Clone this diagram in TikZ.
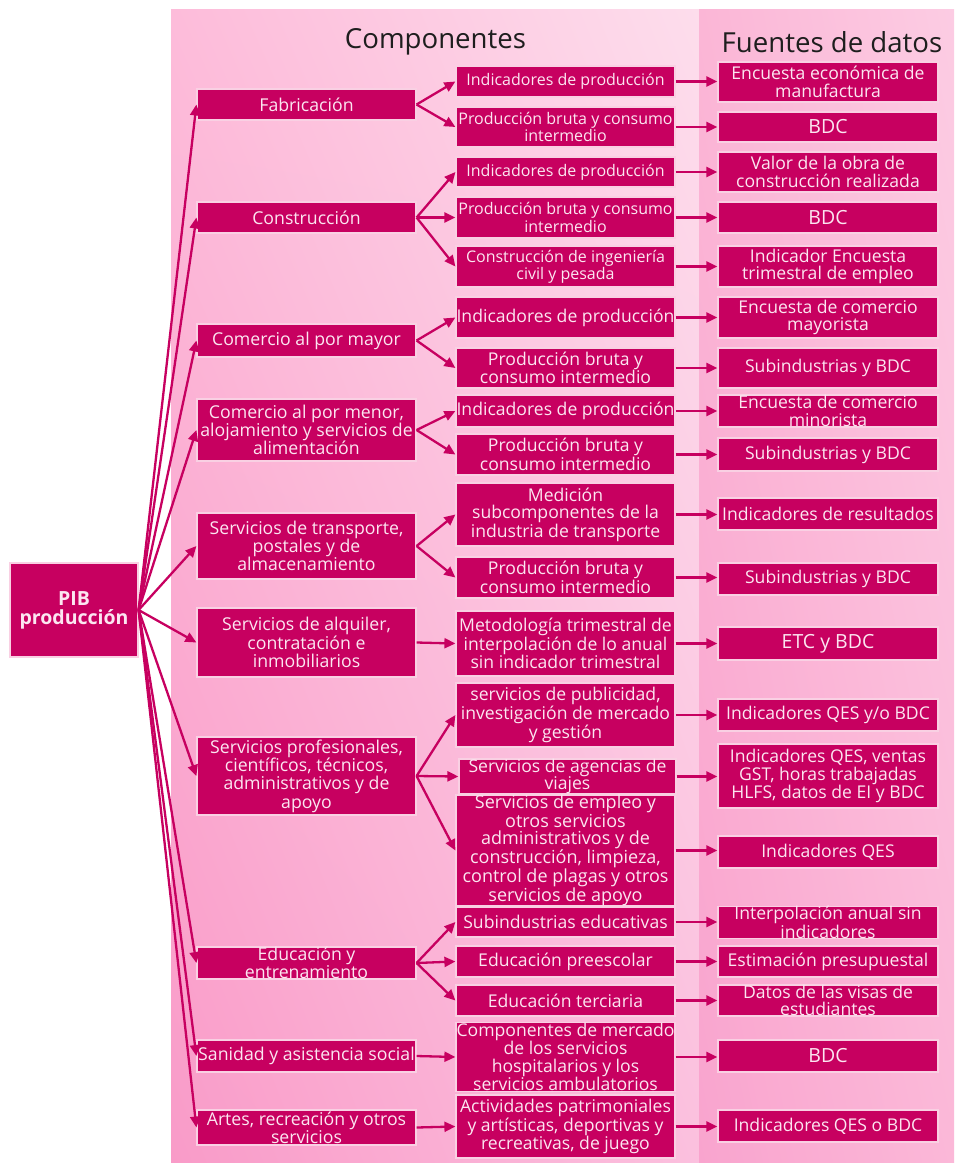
\documentclass[tikz,border=0pt]{standalone}
\usepackage{fontspec}
\setmainfont{Open Sans}
\usetikzlibrary{arrows.meta,shadings}
\definecolor{mag}{HTML}{C70060}
\definecolor{boxtext}{HTML}{FCE6F1}
\definecolor{boxedge}{HTML}{F9D0E3}
\definecolor{hdr}{HTML}{1E1E1E}
\newcommand\BX[7][]{\node[bx,#1,minimum width={(#4)-(#3)},minimum height={(#6)-(#5)}] (#2) at ({((#3)+(#4))/2},{((#5)+(#6))/2}) {#7};}
\newcommand\Cone[5][]{\BX[fone,#1]{#2}{197}{416}{#3}{#4}{#5}}
\newcommand\Ctwo[5][]{\BX[fbig,#1]{#2}{456}{675}{#3}{#4}{#5}}
\newcommand\Cthree[5][]{\BX[fbig,#1]{#2}{718}{938}{#3}{#4}{#5}}
\begin{document}
\begin{tikzpicture}[x=1pt,y=-1pt,
  bx/.style={draw=boxedge,line width=1.2pt,fill=mag,text=boxtext,align=center,inner sep=0pt},
  fone/.style={font=\fontsize{17.7}{18.3}\selectfont},
  fsmall/.style={font=\fontsize{16}{17.2}\selectfont},
  fbig/.style={font=\fontsize{17.6}{17.5}\selectfont},
  fhuge/.style={font=\fontsize{19.5}{20}\selectfont},
  conn/.style={draw=mag,line width=2.3pt,-{Triangle[length=11pt,width=10pt]}},
  hdrtext/.style={text=hdr,font=\fontsize{27.6}{30}\selectfont,inner sep=0pt}]
\useasboundingbox (0,0) rectangle (954,1163);
% background panels
\shade[upper left={rgb,255:red,253;green,188;blue,218},upper right={rgb,255:red,253;green,221;blue,236},
       lower left={rgb,255:red,249;green,155;blue,200},lower right={rgb,255:red,251;green,192;blue,222}]
  (171,9) rectangle (699,1163);
\shade[upper left={rgb,255:red,251;green,182;blue,214},upper right={rgb,255:red,252;green,204;blue,227},
       lower left={rgb,255:red,249;green,164;blue,206},lower right={rgb,255:red,251;green,184;blue,216}]
  (699,9) rectangle (954,1163);
% headers
\node[hdrtext] (h1) at (435.5,42) {Componentes};
\node[hdrtext] (h2) at (832,42) {Fuentes de datos};
% root
\BX[font=\fontsize{19.5}{19}\selectfont\bfseries]{pib}{10}{138}{563}{657}{PIB\\producción}
% column 1
\Cone{a1}{89}{120}{Fabricación}
\Cone{a2}{202}{233}{Construcción}
\Cone{a3}{324}{357}{Comercio al por mayor}
\Cone{a4}{399}{461}{Comercio al por menor,\\alojamiento y servicios de\\alimentación}
\Cone{a5}{513}{579}{Servicios de transporte,\\postales y de\\almacenamiento}
\Cone{a6}{608}{677}{Servicios de alquiler,\\contratación e\\inmobiliarios}
\Cone{a7}{737}{815}{Servicios profesionales,\\científicos, técnicos,\\administrativos y de\\apoyo}
\Cone{a8}{947}{979}{Educación y\\entrenamiento}
\Cone{a9}{1040}{1072}{Sanidad y asistencia social}
\Cone{a10}{1110}{1145}{Artes, recreación y otros\\servicios}
% column 2
\Ctwo[fsmall]{b1a}{66}{97}{Indicadores de producción}
\Ctwo[fsmall]{b1b}{107}{147}{Producción bruta y consumo\\intermedio}
\Ctwo[fsmall]{b2a}{157}{187}{Indicadores de producción}
\Ctwo[fsmall]{b2b}{197}{238}{Producción bruta y consumo\\intermedio}
\Ctwo[fsmall]{b2c}{246}{287}{Construcción de ingeniería\\civil y pesada}
\Ctwo{b3a}{297}{338}{Indicadores de producción}
\Ctwo{b3b}{348}{388}{Producción bruta y\\consumo intermedio}
\Ctwo{b4a}{395}{427}{Indicadores de producción}
\Ctwo{b4b}{434}{475}{Producción bruta y\\consumo intermedio}
\Ctwo{b5a}{483}{546}{Medición\\subcomponentes de la\\industria de transporte}
\Ctwo{b5b}{557}{598}{Producción bruta y\\consumo intermedio}
\Ctwo{b6}{611}{676}{Metodología trimestral de\\interpolación de lo anual\\sin indicador trimestral}
\Ctwo{b7a}{683}{747}{servicios de publicidad,\\investigación de mercado\\y gestión}
\BX[fbig]{b7b}{459}{676}{761}{792}{Servicios de agencias de\\viajes}
\Ctwo[font=\fontsize{18}{17.5}\selectfont]{b7c}{803}{898}{Servicios de empleo y\\otros servicios\\administrativos y de\\construcción, limpieza,\\control de plagas y otros\\servicios de apoyo}
\Ctwo{b8a}{907}{937}{Subindustrias educativas}
\Ctwo{b8b}{946}{977}{Educación preescolar}
\Ctwo{b8c}{985}{1016}{Educación terciaria}
\Ctwo{b9}{1024}{1090}{Componentes de mercado\\de los servicios\\hospitalarios y los\\servicios ambulatorios}
\Ctwo{b10}{1095}{1158}{Actividades patrimoniales\\y artísticas, deportivas y\\recreativas, de juego}
% column 3
\Cthree{c1a}{62}{102}{Encuesta económica de\\manufactura}
\Cthree[fhuge]{c1b}{112}{142}{BDC}
\Cthree{c2a}{152}{192}{Valor de la obra de\\construcción realizada}
\Cthree[fhuge]{c2b}{202}{233}{BDC}
\Cthree{c2c}{246}{287}{Indicador Encuesta\\trimestral de empleo}
\Cthree{c3a}{297}{338}{Encuesta de comercio\\mayorista}
\Cthree{c3b}{348}{388}{Subindustrias y BDC}
\Cthree{c4a}{395}{427}{Encuesta de comercio\\minorista}
\Cthree{c4b}{438}{471}{Subindustrias y BDC}
\Cthree{c5a}{498}{530}{Indicadores de resultados}
\Cthree{c5b}{563}{595}{Subindustrias y BDC}
\Cthree[fhuge]{c6}{627}{660}{ETC y BDC}
\Cthree{c7a}{699}{731}{Indicadores QES y/o BDC}
\Cthree{c7b}{744}{808}{Indicadores QES, ventas\\GST, horas trabajadas\\HLFS, datos de EI y BDC}
\Cthree{c7c}{836}{868}{Indicadores QES}
\Cthree{c8a}{907}{938}{Interpolación anual sin\\indicadores}
\Cthree{c8b}{946}{977}{Estimación presupuestal}
\Cthree{c8c}{985}{1016}{Datos de las visas de\\estudiantes}
\Cthree[fhuge]{c9}{1040}{1072}{BDC}
\Cthree{c10}{1110}{1142}{Indicadores QES o BDC}
% connectors root -> column 1
\foreach \n in {a1,a2,a3,a4,a5,a6,a7,a8,a9,a10}
  \draw[conn] (pib.east) -- (\n.west);
% column 1 -> column 2
\foreach \s/\t in {a1/b1a,a1/b1b,a2/b2a,a2/b2b,a2/b2c,a3/b3a,a3/b3b,a4/b4a,a4/b4b,
                   a5/b5a,a5/b5b,a6/b6,a7/b7a,a7/b7b,a7/b7c,a8/b8a,a8/b8b,a8/b8c,a9/b9,a10/b10}
  \draw[conn] (\s.east) -- (\t.west);
% column 2 -> column 3
\foreach \s/\t in {b1a/c1a,b1b/c1b,b2a/c2a,b2b/c2b,b2c/c2c,b3a/c3a,b3b/c3b,b4a/c4a,b4b/c4b,
                   b5a/c5a,b5b/c5b,b6/c6,b7a/c7a,b7b/c7b,b7c/c7c,b8a/c8a,b8b/c8b,b8c/c8c,b9/c9,b10/c10}
  \draw[conn] (\s.east) -- (\s.east -| \t.west);
\end{tikzpicture}
\end{document}
